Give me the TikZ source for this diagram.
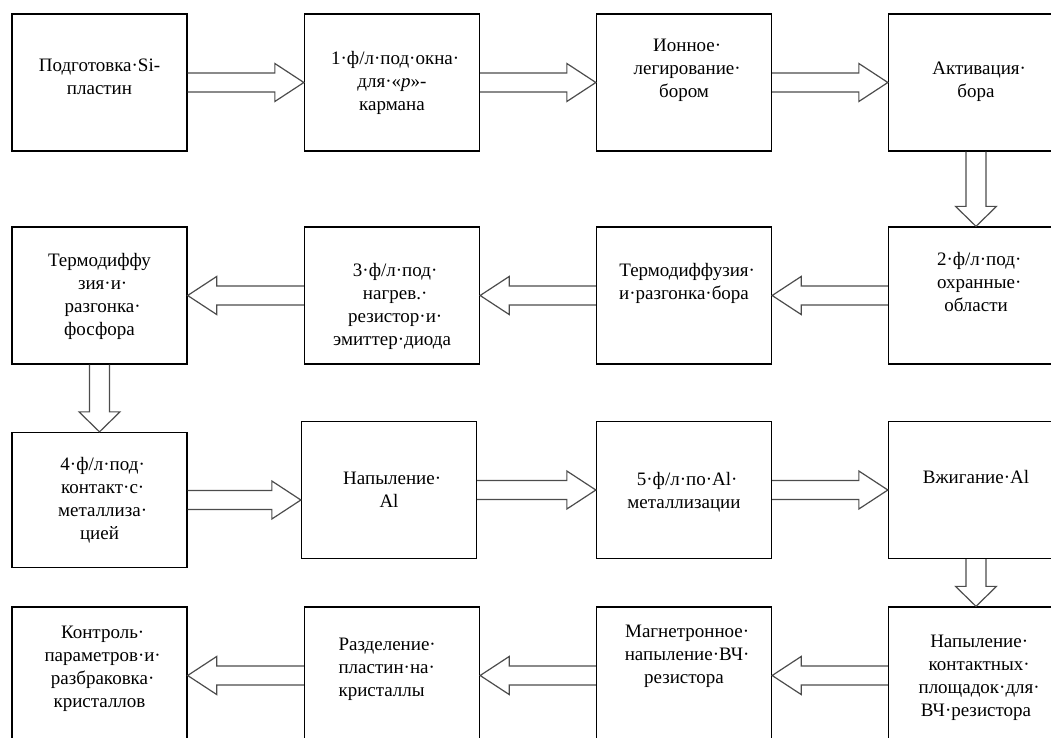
\documentclass[tikz,border=0pt]{standalone}
\usepackage{fontspec}
\setmainfont{Liberation Serif}
\usetikzlibrary{calc}

% hollow block arrows between two boxes
\newcommand{\flowright}[2]{%
  \path[flow] let \p1=(#1.east), \p2=(#2.west) in
    (\x1,{\y1+9.5pt}) -- ({\x2-29pt},{\y1+9.5pt}) -- ({\x2-29pt},{\y1+19pt}) -- (\x2,\y1)
    -- ({\x2-29pt},{\y1-19pt}) -- ({\x2-29pt},{\y1-9.5pt}) -- (\x1,{\y1-9.5pt});}
\newcommand{\flowleft}[2]{%
  \path[flow] let \p1=(#1.west), \p2=(#2.east) in
    (\x1,{\y1+9.5pt}) -- ({\x2+29pt},{\y1+9.5pt}) -- ({\x2+29pt},{\y1+19pt}) -- (\x2,\y1)
    -- ({\x2+29pt},{\y1-19pt}) -- ({\x2+29pt},{\y1-9.5pt}) -- (\x1,{\y1-9.5pt});}
\newcommand{\flowdown}[2]{%
  \path[flow] let \p1=(#1.south), \p2=(#2.north) in
    ({\x1-10pt},\y1) -- ({\x1-10pt},{\y2+20pt}) -- ({\x1-20.5pt},{\y2+20pt}) -- (\x1,\y2)
    -- ({\x1+20.5pt},{\y2+20pt}) -- ({\x1+10pt},{\y2+20pt}) -- ({\x1+10pt},\y1);}

\begin{document}
\begin{tikzpicture}[x=1pt,y=1pt,
  stage/.style={draw,line width=1.3pt,minimum width=175pt,minimum height=137pt,inner sep=0pt},
  stagetext/.style={anchor=north,align=center,inner sep=0pt,font=\fontsize{19}{23}\selectfont},
  flow/.style={draw=black!70,line width=1.2pt,line join=miter}]
  \useasboundingbox (0,0) rectangle (1051,-738);
  \clip (0,0) rectangle (1051,-738);

  % row 1
  \node[stage] (prep)    at (99.5,-82.5) {};
  \node[stage] (litho1)  at (392,-82.5) {};
  \node[stage] (implant) at (684,-82.5) {};
  \node[stage] (activ)   at (976,-82.5) {};
  % row 2
  \node[stage] (litho2)  at (976,-295.5) {};
  \node[stage] (diffb)   at (684,-295.5) {};
  \node[stage] (litho3)  at (392,-295.5) {};
  \node[stage] (diffp)   at (99.5,-295.5) {};
  % row 3
  \node[stage,minimum height=135pt] (litho4) at (99.5,-500) {};
  \node[stage] (depal)   at (389,-490) {};
  \node[stage] (litho5)  at (684,-490) {};
  \node[stage] (anneal)  at (976,-490) {};
  % row 4
  \node[stage] (pads)    at (976,-675.5) {};
  \node[stage] (magn)    at (684,-675.5) {};
  \node[stage] (dicing)  at (392,-675.5) {};
  \node[stage] (test)    at (99.5,-675.5) {};

  \node[stagetext] (prep-t)    at ([yshift=-45.5pt]prep.north) {Подготовка·Si-\\пластин};
  \node[stagetext] (litho1-t)  at ([yshift=-37.5pt]litho1.north) {1·ф/л·под·окна\rlap{·}\\для·«\textit{р}»-\\кармана};
  \node[stagetext] (implant-t) at ([yshift=-25.5pt]implant.north) {Ионное\rlap{·}\\легирование\rlap{·}\\бором};
  \node[stagetext] (activ-t)   at ([yshift=-48.5pt]activ.north) {Активация\rlap{·}\\бора};
  \node[stagetext] (litho2-t)  at ([yshift=-25.5pt]litho2.north) {2·ф/л·под\rlap{·}\\охранные\rlap{·}\\области};
  \node[stagetext] (diffb-t)   at ([yshift=-36.5pt]diffb.north) {Термодиффузия\rlap{·}\\и·разгонка·бора};
  \node[stagetext] (litho3-t)  at ([yshift=-36.5pt]litho3.north) {3·ф/л·под\rlap{·}\\нагрев.\rlap{·}\\резистор·и\rlap{·}\\эмиттер·диода};
  \node[stagetext] (diffp-t)   at ([yshift=-26.5pt]diffp.north) {Термодиффу\\зия·и\rlap{·}\\разгонка\rlap{·}\\фосфора};
  \node[stagetext] (litho4-t)  at ([yshift=-25.5pt]litho4.north) {4·ф/л·под\rlap{·}\\контакт·с\rlap{·}\\металлиза\rlap{·}\\цией};
  \node[stagetext] (depal-t)   at ([yshift=-51.5pt]depal.north) {Напыление\rlap{·}\\Al};
  \node[stagetext] (litho5-t)  at ([yshift=-51.5pt]litho5.north) {5·ф/л·по·Al\rlap{·}\\металлизации};
  \node[stagetext] (anneal-t)  at ([yshift=-49.5pt]anneal.north) {Вжигание·Al};
  \node[stagetext] (pads-t)    at ([yshift=-28.5pt]pads.north) {Напыление\rlap{·}\\контактных\rlap{·}\\площадок·для\rlap{·}\\ВЧ·резистора};
  \node[stagetext] (magn-t)    at ([yshift=-18.5pt]magn.north) {Магнетронное\rlap{·}\\напыление·ВЧ\rlap{·}\\резистора};
  \node[stagetext,align=left] (dicing-t) at ([xshift=-8pt,yshift=-31.5pt]dicing.north) {Разделение\rlap{·}\\пластин·на\rlap{·}\\кристаллы};
  \node[stagetext] (test-t)    at ([yshift=-19.5pt]test.north) {Контроль\rlap{·}\\параметров·и\rlap{·}\\разбраковка\rlap{·}\\кристаллов};

  \flowright{prep}{litho1}
  \flowright{litho1}{implant}
  \flowright{implant}{activ}
  \flowdown{activ}{litho2}
  \flowleft{litho2}{diffb}
  \flowleft{diffb}{litho3}
  \flowleft{litho3}{diffp}
  \flowdown{diffp}{litho4}
  \flowright{litho4}{depal}
  \flowright{depal}{litho5}
  \flowright{litho5}{anneal}
  \flowdown{anneal}{pads}
  \flowleft{pads}{magn}
  \flowleft{magn}{dicing}
  \flowleft{dicing}{test}
\end{tikzpicture}
\end{document}
